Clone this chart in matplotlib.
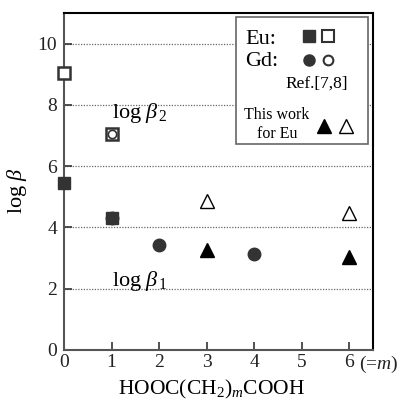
import matplotlib
matplotlib.use("Agg")
import matplotlib.pyplot as plt
from matplotlib.lines import Line2D
from matplotlib.patches import Rectangle

plt.rcParams['font.family'] = ['Liberation Serif', 'DejaVu Serif']
plt.rcParams['mathtext.fontset'] = 'custom'
plt.rcParams['mathtext.rm'] = 'Liberation Serif'
plt.rcParams['mathtext.it'] = 'Liberation Serif:italic'

# Eu (Ref. 7,8)
eu_m = [0, 1]
eu_b1 = [5.45, 4.3]
eu_b2 = [9.05, 7.05]
# Gd (Ref. 7,8)
gd_m = [1, 2, 4]
gd_b1 = [4.3, 3.42, 3.13]
gd_b2_m = [1]
gd_b2 = [7.05]
# This work for Eu
tw_m = [3, 6]
tw_b1 = [3.27, 3.03]
tw_b2 = [4.87, 4.46]

xticks = [0, 1, 2, 3, 4, 5, 6]
xticklabels = ['0', '1', '2', '3', '4', '5', '6']
yticks = [0, 2, 4, 6, 8, 10]

W, H = 401, 400
fig = plt.figure(figsize=(W/100, H/100), dpi=100)
ax = fig.add_axes([64/W, 50/H, (373-64)/W, (350-13)/H])
ax.set_xlim(0, 6.5)
ax.set_ylim(0, 11)

dark = '#333333'
ax.plot(eu_m, eu_b1, 's', color=dark, ms=9, clip_on=False, zorder=3)
ax.plot(eu_m, eu_b2, 's', mfc='white', mec=dark, mew=1.8, ms=9, clip_on=False, zorder=3)
ax.plot(gd_m, gd_b1, 'o', color=dark, ms=9, zorder=4)
ax.plot(gd_b2_m, gd_b2, 'o', mfc='white', mec=dark, mew=1.2, ms=6, zorder=4)
ax.plot(tw_m, tw_b1, '^', color='black', ms=10, zorder=3)
ax.plot(tw_m, tw_b2, '^', mfc='white', mec='black', mew=1.0, ms=10, zorder=3)

for y in [2, 4, 6, 8, 10]:
    ax.axhline(y, color='#666666', lw=0.9, ls=(0, (1, 1.2)), zorder=1)

ax.set_xticks(xticks)
ax.set_xticklabels(xticklabels)
ax.set_yticks(yticks)
ax.tick_params(direction='in', length=6, width=1.2, labelsize=14, colors=dark, labelcolor='#222222')
ax.tick_params(axis='x', pad=3)
ax.tick_params(axis='y', pad=5)
for s in ['left', 'bottom']:
    ax.spines[s].set_color('#555555')
    ax.spines[s].set_linewidth(1.5)
for s in ['top', 'right']:
    ax.spines[s].set_color('black')
    ax.spines[s].set_linewidth(1.5)

ax.annotate('(=$m$)', xy=(6.2, 0), xycoords=('data', 'axes fraction'),
            xytext=(0, -3), textcoords='offset points', ha='left', va='top',
            fontsize=14, color='#222222', annotation_clip=False)

fig.text(17/W, 1-190/H, 'log $\\it{\\beta}$', fontsize=16, rotation=90, ha='center', va='center')
fig.text(212/W, 1-389/H, 'HOOC(CH$_2$)$_{\\it{m}}$COOH', fontsize=15.5, ha='center', va='center')

ax.text(1.0, 7.75, 'log $\\it{\\beta}_{\\,2}$', fontsize=16, ha='left', va='center', zorder=5)
ax.text(1.0, 2.25, 'log $\\it{\\beta}_{\\,1}$', fontsize=16, ha='left', va='center', zorder=5)

# legend box
lx0, ly0 = 236, 17
lx1, ly1 = 368, 144
rect = Rectangle((lx0/W, 1-ly1/H), (lx1-lx0)/W, (ly1-ly0)/H, transform=fig.transFigure,
                 fc='white', ec='#666666', lw=1.2, zorder=10)
fig.patches.append(rect)
fig.text(245/W, 1-39/H, 'Eu:', fontsize=16, va='center', ha='left', zorder=11)
fig.text(245/W, 1-61/H, 'Gd:', fontsize=16, va='center', ha='left', zorder=11)
fig.text(317/W, 1-84/H, 'Ref.[7,8]', fontsize=12.5, va='center', ha='center', zorder=11)
fig.text(277/W, 1-115/H, 'This work', fontsize=11.5, va='center', ha='center', zorder=11)
fig.text(277/W, 1-134/H, 'for Eu', fontsize=11.5, va='center', ha='center', zorder=11)

def fm(x, y, **kw):
    fig.add_artist(Line2D([x/W], [1-y/H], transform=fig.transFigure, zorder=12, **kw))

fm(309, 36, marker='s', color=dark, ms=8, ls='none')
fm(328, 36, marker='s', mfc='white', mec=dark, mew=1.5, ms=8, ls='none')
fm(309, 60, marker='o', color=dark, ms=8, ls='none')
fm(328, 60, marker='o', mfc='white', mec=dark, mew=1.5, ms=7, ls='none')
fm(324, 126, marker='^', color='black', ms=10, ls='none')
fm(346, 126, marker='^', mfc='white', mec='black', mew=1.0, ms=10, ls='none')

fig.savefig('out.png', dpi=100)
